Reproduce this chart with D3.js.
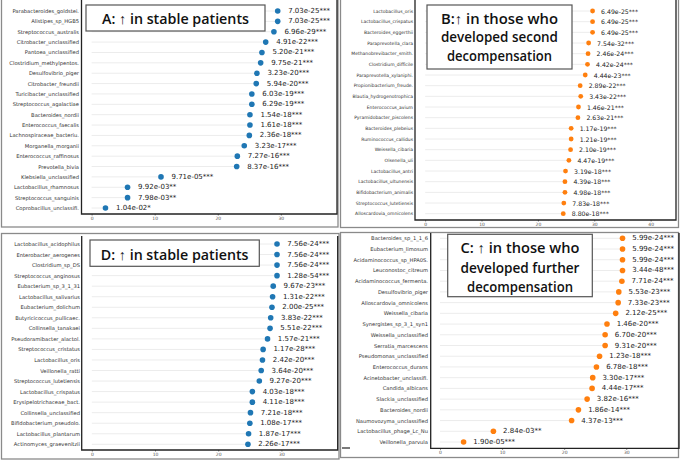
<!DOCTYPE html>
<html><head><meta charset="utf-8">
<script src="https://cdn.jsdelivr.net/npm/d3@7"></script>
<style>body{margin:0;background:#fff} svg{display:block}</style>
</head><body>
<svg id="c" width="680" height="461"></svg>
<script>
// ---------- DATA ----------
const taxaA = ["Parabacteroides_goldstei.","Alistipes_sp_HGB5","Streptococcus_australis","Citrobacter_unclassified","Pantoea_unclassified","Clostridium_methylpentos.","Desulfovibrio_piger","Citrobacter_freundii","Turicibacter_unclassified","Streptococcus_agalactiae","Bacteroides_nordii","Enterococcus_faecalis","Lachnospiraceae_bacteriu.","Morganella_morganii","Enterococcus_raffinosus","Prevotella_bivia","Klebsiella_unclassified","Lactobacillus_rhamnosus","Streptococcus_sanguinis","Coprobacillus_unclassifi."];
const scoreA = [29.5,29.5,28.9,27.6,27.0,26.8,26.2,26.1,25.4,25.4,25.1,25.1,25.0,24.2,23.1,23.0,11.0,5.7,5.7,2.2];
const pvalA = ["7.03e-25***","7.03e-25***","6.96e-29***","4.91e-22***","5.20e-21***","9.75e-21***","3.23e-20***","5.94e-20***","6.03e-19***","6.29e-19***","1.54e-18***","1.61e-18***","2.36e-18***","3.23e-17***","7.27e-16***","8.37e-16***","9.71e-05***","9.92e-03**","7.98e-03**","1.04e-02*"];

const taxaB = ["Lactobacillus_oris","Lactobacillus_crispatus","Bacteroides_eggerthii","Paraprevotella_clara","Methanobrevibacter_smith.","Clostridium_difficile","Paraprevotella_xylaniphi.","Propionibacterium_freude.","Blautia_hydrogenotrophica","Enterococcus_avium","Pyramidobacter_piscolens","Bacteroides_plebeius","Ruminococcus_callidus","Weissella_cibaria","Olsenella_uli","Lactobacillus_antri","Lactobacillus_ultunensis","Bifidobacterium_animalis","Streptococcus_lutetiensis","Alloscardovia_omnicolens"];
const scoreB = [29.7,29.7,29.7,29.0,28.9,28.8,28.4,27.5,27.6,27.2,27.1,25.9,25.9,25.8,25.5,24.9,24.8,24.8,24.6,24.5];
const pvalB = ["6.49e-25***","6.49e-25***","6.49e-25***","7.54e-32***","2.46e-24***","4.42e-24***","4.44e-23***","2.89e-22***","3.43e-22***","1.46e-21***","2.63e-21***","1.17e-19***","1.21e-19***","2.10e-19***","4.47e-19***","3.19e-18***","4.39e-18***","4.98e-18***","7.83e-18***","8.80e-18***"];

const taxaC = ["Bacteroides_sp_1_1_6","Eubacterium_limosum","Acidaminococcus_sp_HPA0S.","Leuconostoc_citreum","Acidaminococcus_fermenta.","Desulfovibrio_piger","Alloscardovia_omnicolens","Weissella_cibaria","Synergistes_sp_3_1_syn1","Weissella_unclassified","Serratia_marcescens","Pseudomonas_unclassified","Enterococcus_durans","Acinetobacter_unclassifi.","Candida_albicans","Slackia_unclassified","Bacteroides_nordii","Naumovozyma_unclassified","Lactobacillus_phage_Lc_Nu","Veillonella_parvula"];
const scoreC = [29.4,29.4,29.4,29.4,29.3,28.8,28.7,28.3,26.9,26.6,26.6,25.7,25.2,24.6,24.5,23.7,22.3,21.2,8.6,3.8];
const pvalC = ["5.99e-24***","5.99e-24***","5.99e-24***","3.44e-48***","7.71e-24***","5.53e-23***","7.33e-23***","2.12e-25***","1.46e-20***","6.70e-20***","9.31e-20***","1.23e-18***","6.78e-18***","3.30e-17***","4.44e-17***","3.82e-16***","1.86e-14***","4.37e-13***","2.84e-03**","1.90e-05***"];

const taxaD = ["Lactobacillus_acidophilus","Enterobacter_aerogenes","Clostridium_sp_DS","Streptococcus_anginosus","Eubacterium_sp_3_1_31","Lactobacillus_salivarius","Eubacterium_dolichum","Butyricicoccus_pullicaec.","Collinsella_tanakaei","Pseudoramibacter_alactol.","Streptococcus_cristatus","Lactobacillus_oris","Veillonella_ratti","Streptococcus_lutetiensis","Lactobacillus_crispatus","Erysipelotrichaceae_bact.","Collinsella_unclassified","Bifidobacterium_pseudolo.","Lactobacillus_plantarum","Actinomyces_graevenitzii"];
const scoreD = [29.3,29.3,29.3,29.3,28.7,28.6,28.5,28.3,28.2,27.8,27.1,27.0,26.8,26.5,25.4,25.4,25.1,25.0,24.8,24.7];
const pvalD = ["7.56e-24***","7.56e-24***","7.56e-24***","1.28e-54***","9.67e-23***","1.31e-22***","2.00e-25***","3.83e-22***","5.51e-22***","1.57e-21***","1.17e-28***","2.42e-20***","3.64e-20***","9.27e-20***","4.03e-18***","4.11e-18***","7.21e-18***","1.08e-17***","1.87e-17***","2.26e-17***"];

const ticksA = [0,10,20,30];
const ticksB = [0,10,20,30,40];
const ticksC = [0,10,20,30];
const ticksD = [0,10,20,30];

const titleA = ["A: \u2191 in stable patients"];
const titleB = ["B:\u2191 in those who","developed second","decompensation"];
const titleC = ["C: \u2191 in those who","developed further","decompensation"];
const titleD = ["D: \u2191 in stable patients"];

// ---------- LAYOUT ----------
const BLUE = "#1f77b4", ORANGE = "#ff7f0e";
const panels = [
  {taxa:taxaA, score:scoreA, pval:pvalA, ticks:ticksA, title:titleA, color:BLUE,
   frame:[1.5,-1,336.5,228], plot:{l:81.5,r:337,t:-1,b:214}, dom:[-1.6,38.9], rows:[11,208],
   tickY:214, r:2.8, labSize:5.2, labRight:79, valSize:7, valOff:10.5,
   box:[86,5,179,26], lineY:[18.3], lineW:[147]},
  {taxa:taxaB, score:scoreB, pval:pvalB, ticks:ticksB, title:titleB, color:ORANGE,
   frame:[340.5,-1,338,228.5], plot:{l:415,r:676,t:-1,b:220}, dom:[-1.8,44.5], rows:[11,213.7],
   tickY:220, r:2.4, labSize:4.5, labRight:413, valSize:6.2, valOff:8.5,
   box:[427,5,145,64], lineY:[18.3,36.7,55], lineW:[117,117,105]},
  {taxa:taxaC, score:scoreC, pval:pvalC, ticks:ticksC, title:titleC, color:ORANGE,
   frame:[340.5,232.5,338,225], plot:{l:430.7,r:679,t:233,b:448.3}, dom:[-1.5,38.5], rows:[238.3,442],
   tickY:448.3, r:2.8, labSize:5.2, labRight:428, valSize:7, valOff:9.7,
   box:[447.7,234.3,144.6,62.4], lineY:[247.7,267.3,286.3], lineW:[119,119,106]},
  {taxa:taxaD, score:scoreD, pval:pvalD, ticks:ticksD, title:titleD, color:BLUE,
   frame:[1.5,233.5,337.5,225.5], plot:{l:81.7,r:337.7,t:236,b:450}, dom:[-1.6,38.9], rows:[244,444.3],
   tickY:450, r:2.8, labSize:5.2, labRight:80, valSize:7, valOff:10.3,
   box:[90,240,169.3,26.3], lineY:[254.3], lineW:[147.7]}
];

const svg = d3.select("#c");
svg.append("rect").attr("width",680).attr("height",461).attr("fill","#fff");

panels.forEach(p => {
  const g = svg.append("g");
  // outer frame
  g.append("rect").attr("x",p.frame[0]).attr("y",p.frame[1]).attr("width",p.frame[2]).attr("height",p.frame[3])
    .attr("fill","none").attr("stroke","#8a8a8a").attr("stroke-width",1.3);
  const x = d3.scaleLinear().domain(p.dom).range([p.plot.l, p.plot.r]);
  const y = d3.scalePoint().domain(d3.range(p.taxa.length)).range(p.rows);
  const idx = d3.range(p.taxa.length);
  // stems
  g.selectAll(".stem").data(idx).join("line")
    .attr("x1", x(0)).attr("x2", i => x(p.score[i]))
    .attr("y1", i => y(i)).attr("y2", i => y(i))
    .attr("stroke","#ececec").attr("stroke-width",1);
  // dots
  g.selectAll(".dot").data(idx).join("circle")
    .attr("cx", i => x(p.score[i])).attr("cy", i => y(i)).attr("r", p.r)
    .attr("fill", p.color);
  // value labels
  g.selectAll(".val").data(idx).join("text")
    .attr("x", i => x(p.score[i]) + p.valOff).attr("y", i => y(i))
    .attr("dominant-baseline","central")
    .attr("font-family","DejaVu Sans").attr("font-size", p.valSize).attr("fill","#222")
    .text(i => p.pval[i]);
  // category labels
  g.selectAll(".lab").data(idx).join("text")
    .attr("x", p.labRight).attr("y", i => y(i))
    .attr("text-anchor","end").attr("dominant-baseline","central")
    .attr("font-family","DejaVu Sans").attr("font-size", p.labSize).attr("fill","#333")
    .text(i => p.taxa[i]);
  // x axis
  const ax = g.append("g").attr("transform",`translate(0,${p.tickY})`)
    .call(d3.axisBottom(x).tickValues(p.ticks).tickSize(1.5).tickPadding(1.5).tickFormat(d3.format("d")));
  ax.select(".domain").remove();
  ax.selectAll("text").attr("font-family","DejaVu Sans").attr("font-size",4.5).attr("fill","#555");
  ax.selectAll("line").attr("stroke","#777");
  // spines
  const s = p.plot;
  g.append("path").attr("d",`M${s.l},${s.t}V${s.b}H${s.r}V${s.t}`)
    .attr("fill","none").attr("stroke","#222").attr("stroke-width",1.3);
  // title box
  g.append("rect").attr("x",p.box[0]).attr("y",p.box[1]).attr("width",p.box[2]).attr("height",p.box[3])
    .attr("fill","#fff").attr("stroke","#555").attr("stroke-width",1.2);
  const cx = p.box[0] + p.box[2]/2;
  p.title.forEach((t,k) => {
    g.append("text").attr("x",cx).attr("y",p.lineY[k])
      .attr("text-anchor","middle").attr("dominant-baseline","central")
      .attr("font-family","Open Sans").attr("font-weight",600).attr("font-size",14.5).attr("fill","#111")
      .attr("textLength",p.lineW[k]).attr("lengthAdjust","spacingAndGlyphs")
      .text(t);
  });
});
// small stray tick at lower-left of panel C
svg.append("line").attr("x1",342).attr("x2",350).attr("y1",448).attr("y2",448).attr("stroke","#222").attr("stroke-width",1.2);
</script>
</body></html>
